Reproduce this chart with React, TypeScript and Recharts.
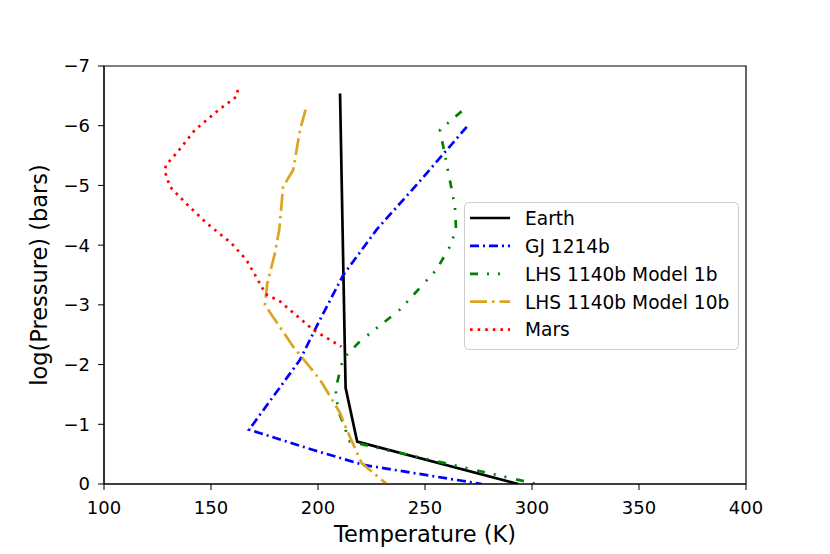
import React from 'react';
import { LineChart, Line, XAxis, YAxis, ReferenceArea, Legend, Label } from 'recharts';

const earthTemp = [210.3, 212.6, 212.9, 218.3, 293.6];
const earthLogP = [-6.54, -2.13, -1.61, -0.71, 0];

const gjTemp = [269.5, 260.1, 246.8, 227.4, 211.8, 200.9, 191.6, 167.8, 197.8, 221.2, 276.5];
const gjLogP = [-5.98, -5.59, -5.04, -4.26, -3.5, -2.75, -2.08, -0.91, -0.57, -0.32, 0];

const lhs1Temp = [267.1, 257.0, 259.3, 264.0, 264.5, 261.7, 255.4, 238.3, 227.4, 219.6, 213.4, 211.0, 208.2, 209.4, 214.9, 302.2];
const lhs1LogP = [-6.24, -5.93, -5.51, -4.65, -4.26, -3.98, -3.59, -2.92, -2.61, -2.39, -2.16, -2.0, -1.58, -1.24, -0.71, 0];

const lhs10Temp = [194.2, 191.6, 188.4, 183.7, 181.9, 179.9, 176.3, 175.2, 188.4, 200.9, 210.3, 213.4, 220.4, 232.1];
const lhs10LogP = [-6.27, -5.93, -5.26, -4.98, -4.26, -3.87, -3.36, -3.0, -2.3, -1.75, -1.19, -0.91, -0.35, 0];

const marsTemp = [162.5, 162.0, 153.4, 142.5, 133.9, 128.9, 128.5, 130.8, 138.3, 147.9, 159.6, 166.6, 173.6, 175.5, 182.2, 197.8, 211.0];
const marsLogP = [-6.6, -6.49, -6.26, -5.93, -5.54, -5.34, -5.23, -4.98, -4.7, -4.37, -4.03, -3.75, -3.31, -3.18, -3.06, -2.58, -2.3];

const xTicks = [100, 150, 200, 250, 300, 350, 400];
const yTicks = [-7, -6, -5, -4, -3, -2, -1, 0];

const seriesNames = ['Earth', 'GJ 1214b', 'LHS 1140b Model 1b', 'LHS 1140b Model 10b', 'Mars'];
const seriesColors = ['#000000', '#0000ff', '#008000', '#daa520', '#ff0000'];
const seriesDash = [undefined, '9 4 2 4', '8 9 2 9 2 10', '17 5 2.5 5', '2.6 5'];

const zip = (t: number[], p: number[]) => t.map((v, i) => ({ t: v, p: p[i] }));
const seriesData = [
  zip(earthTemp, earthLogP),
  zip(gjTemp, gjLogP),
  zip(lhs1Temp, lhs1LogP),
  zip(lhs10Temp, lhs10LogP),
  zip(marsTemp, marsLogP),
];

const FONT = '"DejaVu Sans", sans-serif';
const fmtMinus = (v: number) => (v < 0 ? '\u2212' + Math.abs(v) : String(v));

const XLabel = (props: any) => {
  const vb = props.viewBox || {};
  return (
    <text x={vb.x + vb.width / 2} y={vb.y + 57.5} textAnchor="middle" fontSize={22.5} fontFamily={FONT} fill="#000">
      Temperature (K)
    </text>
  );
};

const YLabel = (props: any) => {
  const vb = props.viewBox || {};
  const cy = vb.y + vb.height / 2;
  return (
    <text transform="rotate(-90)" x={-cy} y={46.5} textAnchor="middle" fontSize={22.5} fontFamily={FONT} fill="#000">
      log(Pressure) (bars)
    </text>
  );
};

const renderLegend = () => (
  <svg width={276} height={149} style={{ display: 'block' }}>
    <rect x={0.5} y={0.5} width={274} height={147} rx={4} fill="#ffffff" fillOpacity={0.8} stroke="#cccccc" strokeWidth={1} />
    {seriesNames.map((name, i) => {
      const y = 16 + i * 27.9;
      return (
        <g key={name}>
          <line x1={6} x2={46} y1={y} y2={y} stroke={seriesColors[i]} strokeWidth={2.7} strokeDasharray={seriesDash[i]} />
          <text x={61} y={y + 6.8} fontSize={18.6} fontFamily={FONT} fill="#000">
            {name}
          </text>
        </g>
      );
    })}
  </svg>
);

export default function App() {
  return (
    <div style={{ position: 'absolute', left: 0, top: 0, width: 830, height: 554, background: '#fff' }}>
      <LineChart width={830} height={554} margin={{ top: 66, right: 84, bottom: 10, left: 50 }}>
        <XAxis
          type="number"
          dataKey="t"
          domain={[100, 400]}
          ticks={xTicks}
          allowDataOverflow
          height={60}
          stroke="#000"
          tickSize={6}
          tickMargin={11}
          tick={{ fontSize: 18, fill: '#000', fontFamily: FONT }}
        >
          <Label content={XLabel} />
        </XAxis>
        <YAxis
          type="number"
          domain={[-7, 0]}
          ticks={yTicks}
          reversed
          allowDataOverflow
          width={54}
          stroke="#000"
          tickSize={6}
          tickMargin={8}
          tickFormatter={fmtMinus}
          tick={{ fontSize: 18, fill: '#000', fontFamily: FONT }}
        >
          <Label content={YLabel} />
        </YAxis>
        <ReferenceArea x1={100} x2={400} y1={-7} y2={0} fill="none" fillOpacity={0} stroke="#000" strokeWidth={1.2} ifOverflow="visible" />
        {seriesNames.map((name, i) => (
          <Line
            key={name}
            name={name}
            data={seriesData[i]}
            dataKey="p"
            type="linear"
            stroke={seriesColors[i]}
            strokeWidth={2.7}
            strokeDasharray={seriesDash[i]}
            dot={false}
            activeDot={false}
            isAnimationActive={false}
          />
        ))}
        <Legend
          layout="vertical"
          align="center"
          verticalAlign="middle"
          content={renderLegend}
          wrapperStyle={{ position: 'absolute', left: 464, top: 202, width: 276, height: 149 }}
        />
      </LineChart>
    </div>
  );
}
